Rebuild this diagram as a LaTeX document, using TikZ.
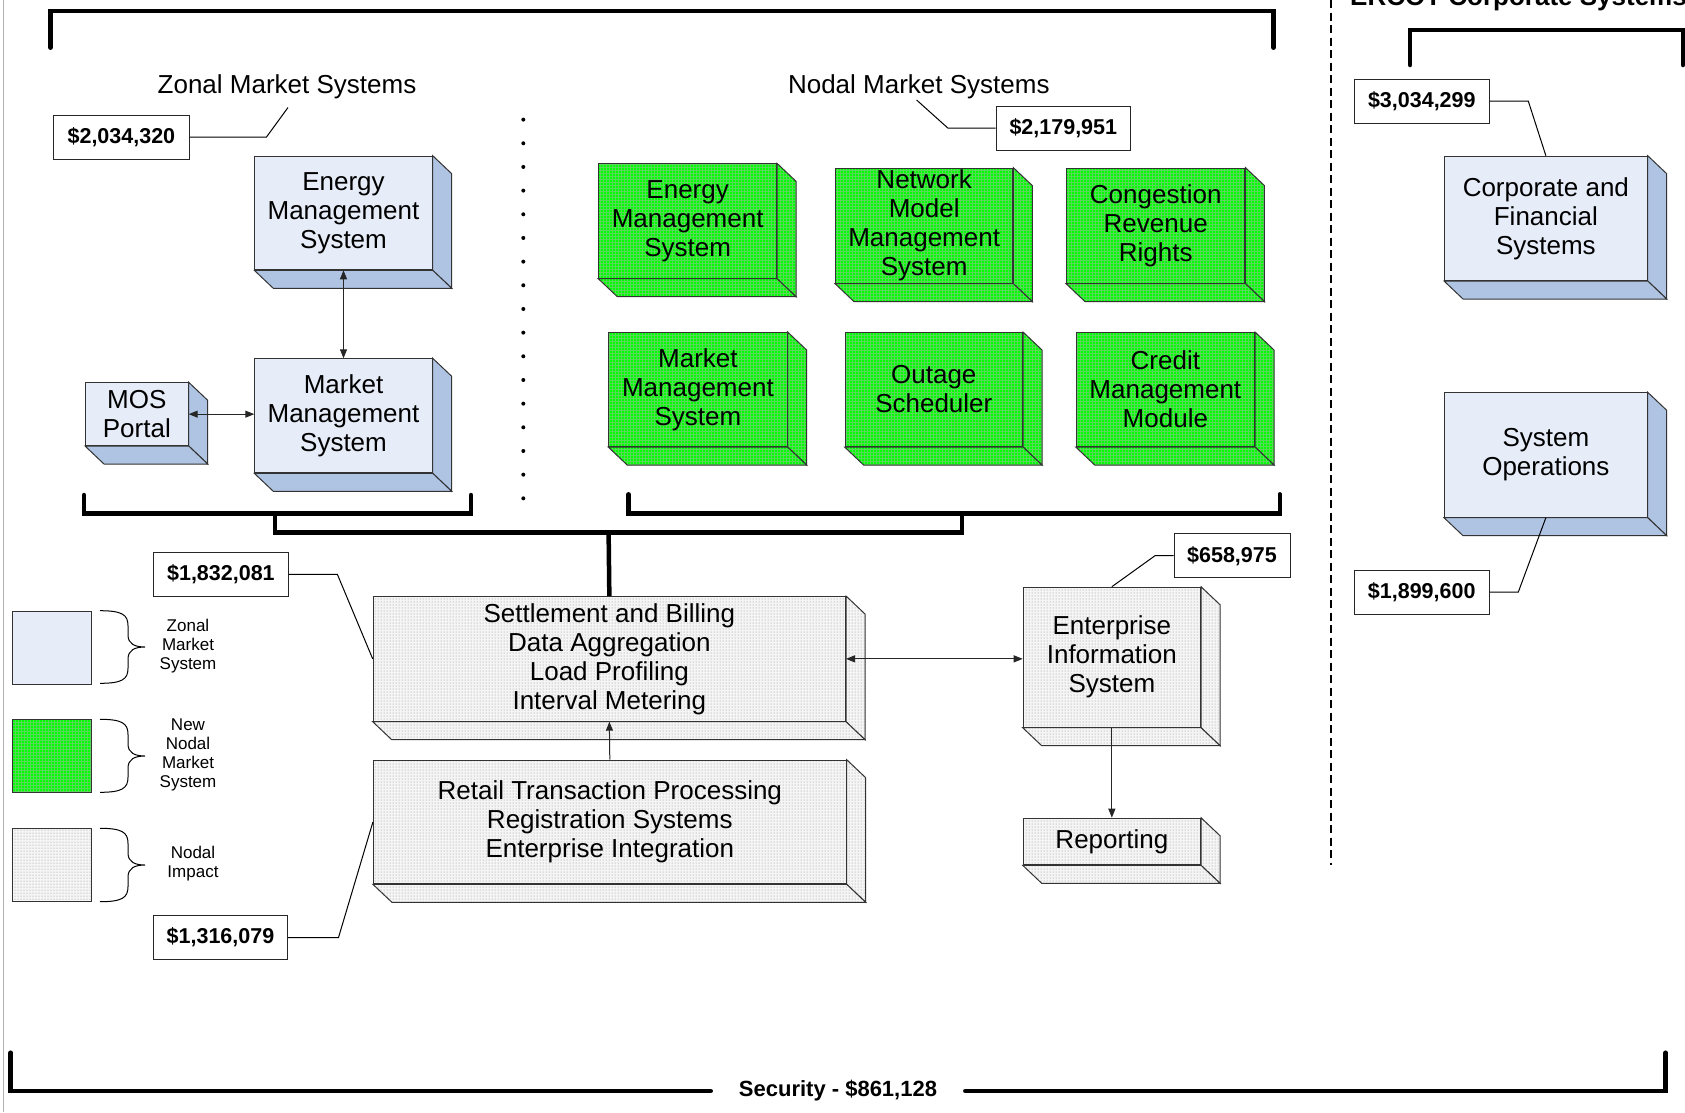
\documentclass[tikz,border=0pt]{standalone}
\usepackage{fontspec}
\setmainfont{Liberation Sans}
\usetikzlibrary{patterns,arrows.meta,calc}
\definecolor{zfront}{HTML}{E6ECF8}
\definecolor{zside}{HTML}{AFC3E2}
\definecolor{ngreen}{HTML}{00FF00}
\definecolor{ngrid}{HTML}{5AD85A}
\definecolor{idot}{HTML}{8A8A8A}
\tikzset{
  boxline/.style={draw=black!80, line width=1pt},
  frontzonal/.style={boxline, fill=zfront},
  sidezonal/.style={boxline, fill=zside},
  frontnodal/.style={boxline, preaction={fill=ngreen}, pattern=grid, pattern color=ngrid},
  sidenodal/.style={boxline, preaction={fill=ngreen}, pattern=grid, pattern color=ngrid},
  frontimpact/.style={boxline, preaction={fill=black!4}, pattern=dots, pattern color=idot},
  sideimpact/.style={boxline, preaction={fill=black!4}, pattern=dots, pattern color=idot},
  boxtext/.style={font=\fontsize{26}{29}\selectfont, align=center, inner sep=0pt, text=black},
  grouplabel/.style={font=\fontsize{26}{29}\selectfont, inner sep=0pt},
  cost/.style={draw=black!85, line width=1pt, fill=white, font=\bfseries\fontsize{21.5}{24}\selectfont, minimum height=44, inner sep=0pt},
  leader/.style={draw=black, line width=1pt},
  conn/.style={draw=black!85, line width=1pt},
  tip/.tip={Triangle[length=9pt,width=7pt]},
  bracket/.style={draw=black, line width=4.5pt, line join=miter, line cap=round},
  legtext/.style={font=\fontsize{17}{19}\selectfont, align=center, inner sep=0pt},
  legsq/.style={boxline, anchor=north west, minimum width=79, minimum height=73, inner sep=0pt},
}
% #1 name, #2 left, #3 top, #4 width, #5 height, #6 kind, #7 text
\newcommand\tdbox[7]{%
  \node[front#6, boxtext, minimum width=#4, minimum height=#5, anchor=north west] (#1) at (#2,#3) {#7};
  \path[side#6] (#1.north east) -- ([shift={(19,18)}]#1.north east) -- ([shift={(19,18)}]#1.south east) -- (#1.south east) -- cycle;
  \path[side#6] (#1.south west) -- ([shift={(19,18)}]#1.south west) -- ([shift={(19,18)}]#1.south east) -- (#1.south east) -- cycle;
}
\newcommand\legbrace[3]{% top, mid, bottom
  \draw[line width=1pt] (100,#1) .. controls (122,#1) and (128,#1+4) .. (128,#1+15) -- (128,#2-12)
    .. controls (128,#2-3) and (135,#2) .. (145,#2)
    .. controls (135,#2) and (128,#2+3) .. (128,#2+12) -- (128,#3-15)
    .. controls (128,#3-4) and (122,#3) .. (100,#3);
}
\begin{document}
\begin{tikzpicture}[x=1pt,y=-1pt]
\useasboundingbox (0,0) rectangle (1685,1112);
\clip (0,0) rectangle (1685,1112);
\fill[white] (0,0) rectangle (1685,1112);
\draw[gray!60, line width=1pt] (3,0) -- (3,1112);

% title (cut off at the top edge, as in the reference)
\node[font=\bfseries\fontsize{26}{29}\selectfont, inner sep=0pt, anchor=base west] (corptitle) at (1350,5) {ERCOT Corporate Systems};

% top brackets and dashed separator
\draw[bracket] (50.5,47.7) -- (50.5,11) -- (1273.5,11) -- (1273.5,47.7);
\draw[bracket] (1410,65) -- (1410,30) -- (1683,30) -- (1683,65);
\draw[black, line width=2.5pt, dash pattern=on 8pt off 4.5pt] (1331,0) -- (1331,865);

% dotted separator
\foreach \i in {0,...,16} \fill (523.3,119.6+23.67*\i) circle[radius=2pt];

% group labels
\node[grouplabel] (zlabel) at (287,87) {Zonal Market Systems};
\node[grouplabel] (nlabel) at (918.8,87) {Nodal Market Systems};
\coordinate (zlab) at (288,107.5);
\coordinate (nlab) at (916.6,100);

% zonal boxes
\tdbox{zems}{254.3}{155.7}{177.4}{113.6}{zonal}{Energy\\Management\\System}
\tdbox{zmms}{254.3}{358.3}{177.4}{114}{zonal}{Market\\Management\\System}
\tdbox{mos}{85}{382.3}{102.7}{62.7}{zonal}{MOS\\Portal}

% nodal boxes
\tdbox{nems}{598.3}{163.3}{177.7}{114.4}{nodal}{Energy\\Management\\System}
\tdbox{nmms}{835}{167.6}{177.3}{115}{nodal}{Network\\Model\\Management\\System}
\tdbox{crr}{1066}{167.6}{178.4}{115}{nodal}{Congestion\\Revenue\\Rights}
\tdbox{nmkt}{608.2}{332}{178.4}{114}{nodal}{Market\\Management\\System}
\tdbox{outage}{844.6}{332}{177.4}{114}{nodal}{Outage\\Scheduler}
\tdbox{credit}{1075.7}{332}{178.3}{114}{nodal}{Credit\\Management\\Module}

% corporate boxes
\tdbox{corp}{1444}{155.7}{202.7}{124.3}{zonal}{Corporate and\\Financial\\Systems}
\tdbox{sysops}{1444}{392.3}{202.7}{124.4}{zonal}{System\\Operations}

% impact boxes
\tdbox{sett}{372.7}{596}{472.3}{124.7}{impact}{Settlement and Billing\\Data Aggregation\\Load Profiling\\Interval Metering}
\tdbox{ret}{372.9}{759.7}{472.8}{123.6}{impact}{Retail Transaction Processing\\Registration Systems\\Enterprise Integration}
\tdbox{eis}{1022.7}{586.7}{177.3}{140}{impact}{Enterprise\\Information\\System}
\tdbox{rep}{1022.7}{817.7}{177.3}{46.6}{impact}{Reporting}

% connectors
\draw[conn, tip-tip] (zems.south) -- (zmms.north);
\draw[conn, tip-tip] (mos.east) -- (mos.east -| zmms.west);
\draw[conn, tip-tip] (sett.east) -- (sett.east -| eis.west);
\draw[conn, -tip] (ret.north) -- (sett.south);
\draw[conn, -tip] (eis.south) -- (rep.north);

% bottom brackets
\draw[bracket] (84,495) -- (84,513.5) -- (471,513.5) -- (471,495);
\draw[bracket] (628.6,494.3) -- (628.6,513.5) -- (1279.8,513.5) -- (1279.8,494.3);
\draw[bracket] (275,513.5) -- (275,532.5) -- (962,532.5) -- (962,513.5);
\draw[bracket, line cap=butt] (608.6,532.5) -- (sett.north);

% cost labels
\node[cost, minimum width=135.4] (c1) at (121.4,137) {\$2,034,320};
\node[cost, minimum width=134.5] (c2) at (1063.3,128.2) {\$2,179,951};
\node[cost, minimum width=135] (c3) at (1421.8,101.2) {\$3,034,299};
\node[cost, minimum width=135] (c4) at (1421.7,592) {\$1,899,600};
\node[cost, minimum width=134.3] (c5) at (220.9,574.4) {\$1,832,081};
\node[cost, minimum width=134.4] (c6) at (220.5,937.5) {\$1,316,079};
\node[cost, minimum width=116] (c7) at (1232,555.7) {\$658,975};

\draw[leader] (c1.east) -- (266.5,137) -- (zlab);
\draw[leader] (c2.west) -- (948,128.2) -- (nlab);
\draw[leader] (c3.east) -- (1528.3,101.2) -- (corp.north);
\draw[leader] (c4.east) -- (1518.3,592) -- (sysops.south);
\draw[leader] (c5.east) -- (337.4,574.4) -- (sett.west);
\draw[leader] (c6.east) -- (338.5,937.5) -- (ret.west);
\draw[leader] (c7.west) -- (1155,555.7) -- (eis.north);

% legend
\node[legsq, fill=zfront] (lz) at (11.7,610.7) {};
\node[legsq, preaction={fill=ngreen}, pattern=grid, pattern color=ngrid] (ln) at (11.7,719.3) {};
\node[legsq, preaction={fill=black!4}, pattern=dots, pattern color=idot] (li) at (11.7,828.3) {};
\legbrace{610.7}{647}{683.3}
\legbrace{719.3}{756}{792.3}
\legbrace{828.3}{865}{901.7}
\node[legtext] (lzt) at (188,645.7) {Zonal\\Market\\System};
\node[legtext] (lnt) at (188,754.5) {New\\Nodal\\Market\\System};
\node[legtext] (lit) at (193,864) {Nodal\\Impact};

% security bracket
\node[font=\bfseries\fontsize{22}{24}\selectfont, inner sep=0pt, inner xsep=28pt] (sec) at (838,1091) {Security - \$861,128};
\draw[bracket] (10.7,1052.7) -- (10.7,1091) -- (sec.west);
\draw[bracket] (sec.east) -- (1665.7,1091) -- (1665.7,1052.7);
\end{tikzpicture}
\end{document}
